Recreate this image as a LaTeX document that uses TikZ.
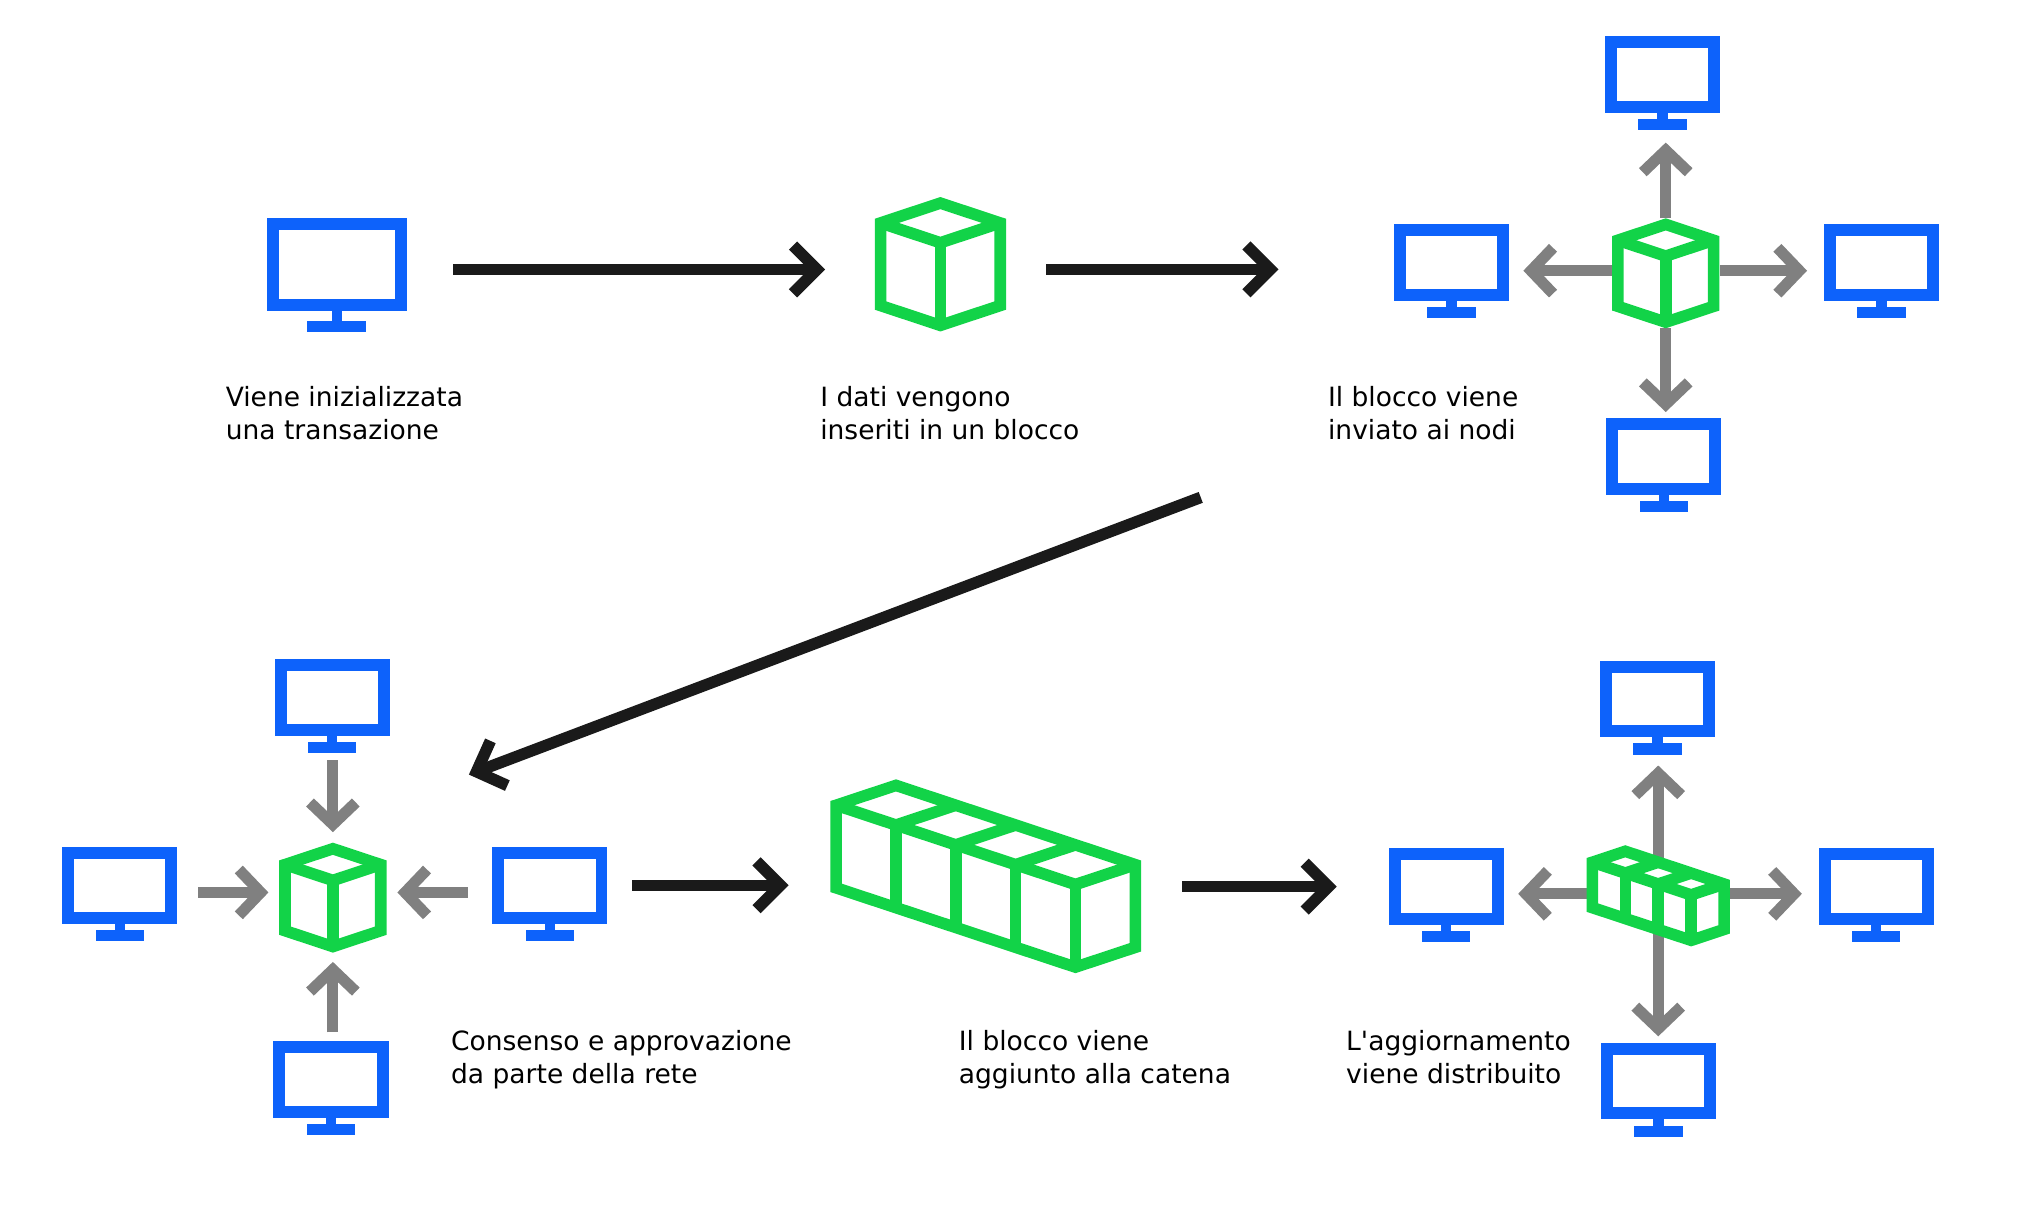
\documentclass[tikz,border=0pt]{standalone}
\usepackage{fontspec}
\newfontfamily\captionfont{DejaVu Sans}
\usepackage{xcolor}
\usetikzlibrary{positioning, arrows.meta, calc, backgrounds}
\definecolor{screenblue}{HTML}{0D62FB}
\definecolor{blockgreen}{HTML}{12D348}
\definecolor{flowblack}{HTML}{1A1A1A}
\definecolor{sendgray}{HTML}{808080}

% screen with neck and foot: [neck] {name} {position} {size style}
\newcommand{\monitor}[4][3.2pt]{
  \node (#2) [#4] at (#3) {};
  \fill [screenblue] ([xshift=-2.6pt]#2.south) rectangle ([xshift=2.6pt,yshift=-#1]#2.south);
  \fill [screenblue] ($(#2.south west)!.29!(#2.south east)+(0pt,-#1)$) rectangle ($(#2.south west)!.71!(#2.south east)+(0pt,-#1-5.6pt)$);
}
% row of cubes: [scale] {name} {count} {centre}
\newcommand{\blockrow}[4][1]{
  \pgfmathsetmacro{\rowW}{(#3+1)*46.2}
  \pgfmathsetmacro{\rowH}{(#3-1)*15.3+63.8}
  \begin{scope}[shift={(#4)},scale=#1,shift={(-\rowW/2,-\rowH/2)}]
    \node (#2) [inner sep=0pt, minimum width=(\rowW*#1+9)*.65pt, minimum height=((\rowH+30.6)*#1+9)*.65pt] at (\rowW/2,\rowH/2) {};
    \draw [blockline, fill=white] (0,0) -- (46.2,-15.3) -- (\rowW,\rowH-63.8) -- (\rowW,\rowH) -- (#3*46.2,\rowH+15.3) -- (0,63.8) -- cycle;
    \foreach \i in {1,...,#3} {
      \draw [blockline] (\i*46.2-46.2,\i*15.3-15.3) -- (\i*46.2,\i*15.3) -- (\i*46.2+46.2,\i*15.3-15.3);
      \draw [blockline] (\i*46.2,\i*15.3) -- (\i*46.2,\i*15.3+63.8);
    }
  \end{scope}
}

\begin{document}
\begin{tikzpicture}[x=.65pt, y=-.65pt, every node/.style={font=\captionfont\fontsize{13.3}{16.9}\selectfont}]
  \tikzstyle{screen} = [rectangle, draw=screenblue, line width=6pt, inner sep=0pt, minimum width=51.85pt, minimum height=32.35pt]
  \tikzstyle{bigscreen} = [screen, minimum width=64.2pt, minimum height=40.8pt]
  \tikzstyle{blockline} = [draw=blockgreen, line width=5.8pt]
  \tikzstyle{caption} = [anchor=west, align=left, inner sep=0pt]
  \tikzstyle{flow} = [draw=flowblack, line width=5.8pt, -{Straight Barb[length=12pt, width=24pt, line width=5.8pt]}]
  \tikzstyle{send} = [draw=sendgray, line width=5.6pt, -{Straight Barb[length=11pt, width=23pt, line width=5.6pt]}]

  \useasboundingbox (0,0) rectangle (1568,932);

  % first row
  \monitor[5.2pt]{start}{260,204}{bigscreen}
  \blockrow{block}{1}{726,204}
  \blockrow[.8]{hubC}{1}{1286,211}
  \monitor{netCt}{1283.5,57.5}{screen}
  \monitor{netCl}{1120.5,202.5}{screen}
  \monitor{netCr}{1452.5,202.5}{screen}
  \monitor{netCb}{1284.5,352.5}{screen}

  % second row
  \blockrow[.8]{hubD}{1}{257,693}
  \monitor{netDt}{256.5,538.5}{screen}
  \monitor{netDl}{92.5,683.5}{screen}
  \monitor{netDr}{424.5,683.5}{screen}
  \monitor{netDb}{255.5,833.5}{screen}
  \blockrow{chain}{4}{761,676.5}
  \monitor{netEt}{1279.5,539.5}{screen}
  \monitor{netEl}{1116.5,684.5}{screen}
  \monitor{netEr}{1448.5,684.5}{screen}
  \monitor{netEb}{1280.5,834.5}{screen}
  \blockrow[.55]{hubE}{3}{1280.2,691.6}

  \node (capA) [caption] at (174,319) {Viene inizializzata\\una transazione};
  \node (capB) [caption] at (633,319) {I dati vengono\\inseriti in un blocco};
  \node (capC) [caption] at (1025,319) {Il blocco viene\\inviato ai nodi};
  \node (capD) [caption] at (348,818) {Consenso e approvazione\\da parte della rete};
  \node (capE) [caption] at (740,818) {Il blocco viene\\aggiunto alla catena};
  \node (capF) [caption] at (1039,816) {L'aggiornamento\\viene distribuito};

  \coordinate (turnA) at (927,384);
  \coordinate (turnB) at (362,598);

  \draw [flow, shorten <=23.4pt, shorten >=24.7pt] ([yshift=-2.6pt]start.east) -- ([yshift=-2.6pt]block.west);
  \draw [flow, shorten <=20pt, shorten >=57.8pt] ([yshift=-2.6pt]block.east) -- ([yshift=-2.6pt]block.east -| netCl.west);
  \draw [flow] (turnA) -- (turnB);
  \draw [flow, shorten <=12.4pt, shorten >=20.7pt] (netDr.east) -- (netDr.east -| chain.west);
  \draw [flow, shorten <=20.5pt, shorten >=26pt] (netEl.west -| chain.east) -- (netEl.west);

  \draw [send, shorten >=15pt] (hubC.north) -- (hubC.north |- netCt.south);
  \draw [send, shorten >=3.2pt] (hubC.south) -- (hubC.south |- netCb.north);
  \draw [send, shorten >=7.2pt] ([yshift=1.3pt]hubC.west) -- ([yshift=1.3pt]hubC.west -| netCl.east);
  \draw [send, shorten >=8.4pt] ([yshift=1.3pt]hubC.east) -- ([yshift=1.3pt]hubC.east -| netCr.west);

  \draw [send, shorten <=12.4pt, shorten >=5.2pt] (hubD.north |- netDt.south) -- (hubD.north);
  \draw [send, shorten <=4.6pt, shorten >=4.6pt] (hubD.south |- netDb.north) -- (hubD.south);
  \draw [send, shorten <=10.4pt, shorten >=5.2pt] ([yshift=2.6pt]hubD.west -| netDl.east) -- ([yshift=2.6pt]hubD.west);
  \draw [send, shorten <=12.4pt, shorten >=5.2pt] ([yshift=2.6pt]hubD.east -| netDr.west) -- ([yshift=2.6pt]hubD.east);

  \begin{scope}[on background layer]
    \draw [send, shorten >=14.3pt] (hubE.center) -- (hubE.center |- netEt.south);
    \draw [send, shorten >=3.2pt] (hubE.center) -- (hubE.center |- netEb.north);
    \draw [send, shorten >=7.2pt] ([yshift=1pt]hubE.center) -- ([yshift=1pt]hubE.center -| netEl.east);
    \draw [send, shorten >=8.4pt] ([yshift=1pt]hubE.center) -- ([yshift=1pt]hubE.center -| netEr.west);
  \end{scope}
\end{tikzpicture}
\end{document}
